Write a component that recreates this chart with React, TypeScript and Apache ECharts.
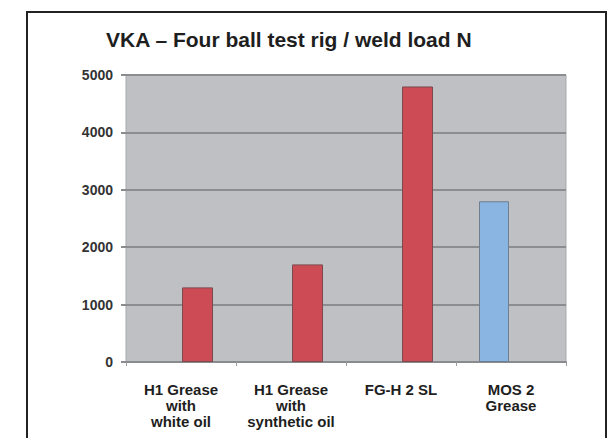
import React, { useEffect, useRef } from "react";
import * as echarts from "echarts";

const titleText = "VKA – Four ball test rig / weld load N";
const categories = [
  "H1 Grease\nwith\nwhite oil",
  "H1 Grease\nwith\nsynthetic oil",
  "FG-H 2 SL",
  "MOS 2\nGrease",
];
const blueValues: (number | null)[] = [null, null, null, 2800];
const redValues: (number | null)[] = [1300, 1700, 4800, null];
const yMin = 0;
const yMax = 5000;
const yInterval = 1000;

export default function App() {
  const ref = useRef<HTMLDivElement>(null);
  useEffect(() => {
    document.body.style.margin = "0";
    const chart = echarts.init(ref.current!, null, { renderer: "svg" });
    chart.setOption({
      animation: false,
      backgroundColor: "#ffffff",
      textStyle: { fontFamily: "Liberation Sans, Arial, sans-serif" },
      graphic: [
        {
          type: "rect",
          shape: { x: 27, y: 12, width: 579, height: 440 },
          style: { fill: "none", stroke: "#222222", lineWidth: 2 },
          z: 10,
        },
        {
          type: "text",
          left: 106,
          top: 29,
          style: {
            text: titleText,
            font: "bold 21px 'Liberation Sans', Arial, sans-serif",
            fill: "#1e1e1e",
          },
        },
      ],
      grid: {
        left: 126,
        top: 75,
        right: 48,
        bottom: 76,
        show: true,
        backgroundColor: "#bfc0c4",
        borderColor: "#a9aaae",
        borderWidth: 1,
      },
      xAxis: {
        type: "category",
        data: categories,
        axisLine: { show: true, lineStyle: { color: "#8a8b8f", width: 2 } },
        axisTick: { show: true, length: 4, lineStyle: { color: "#9a9b9f" } },
        axisLabel: {
          interval: 0,
          margin: 19,
          color: "#1e1e1e",
          fontWeight: "bold",
          fontSize: 15,
          lineHeight: 16,
          fontFamily: "Liberation Sans, Arial, sans-serif",
        },
      },
      yAxis: {
        type: "value",
        min: yMin,
        max: yMax,
        interval: yInterval,
        axisLine: { show: false },
        axisTick: { show: true, length: 5, lineStyle: { color: "#8a8b8f", width: 2 } },
        splitLine: { lineStyle: { color: "#8c8d91", width: 2 } },
        axisLabel: {
          margin: 13,
          color: "#333333",
          fontWeight: "bold",
          fontSize: 14,
          fontFamily: "Liberation Sans, Arial, sans-serif",
          formatter: (v: number) => String(v),
        },
      },
      series: [
        {
          type: "bar",
          data: blueValues,
          barWidth: 30,
          barGap: "10%",
          itemStyle: { color: "#8ab4e2", borderColor: "#6f7e90", borderWidth: 1 },
        },
        {
          type: "bar",
          data: redValues,
          barWidth: 31,
          barGap: "10%",
          itemStyle: { color: "#cc4b55", borderColor: "#7a4a4e", borderWidth: 1 },
        },
      ],
    });
    return () => chart.dispose();
  }, []);
  return <div ref={ref} style={{ width: 614, height: 438 }} />;
}
